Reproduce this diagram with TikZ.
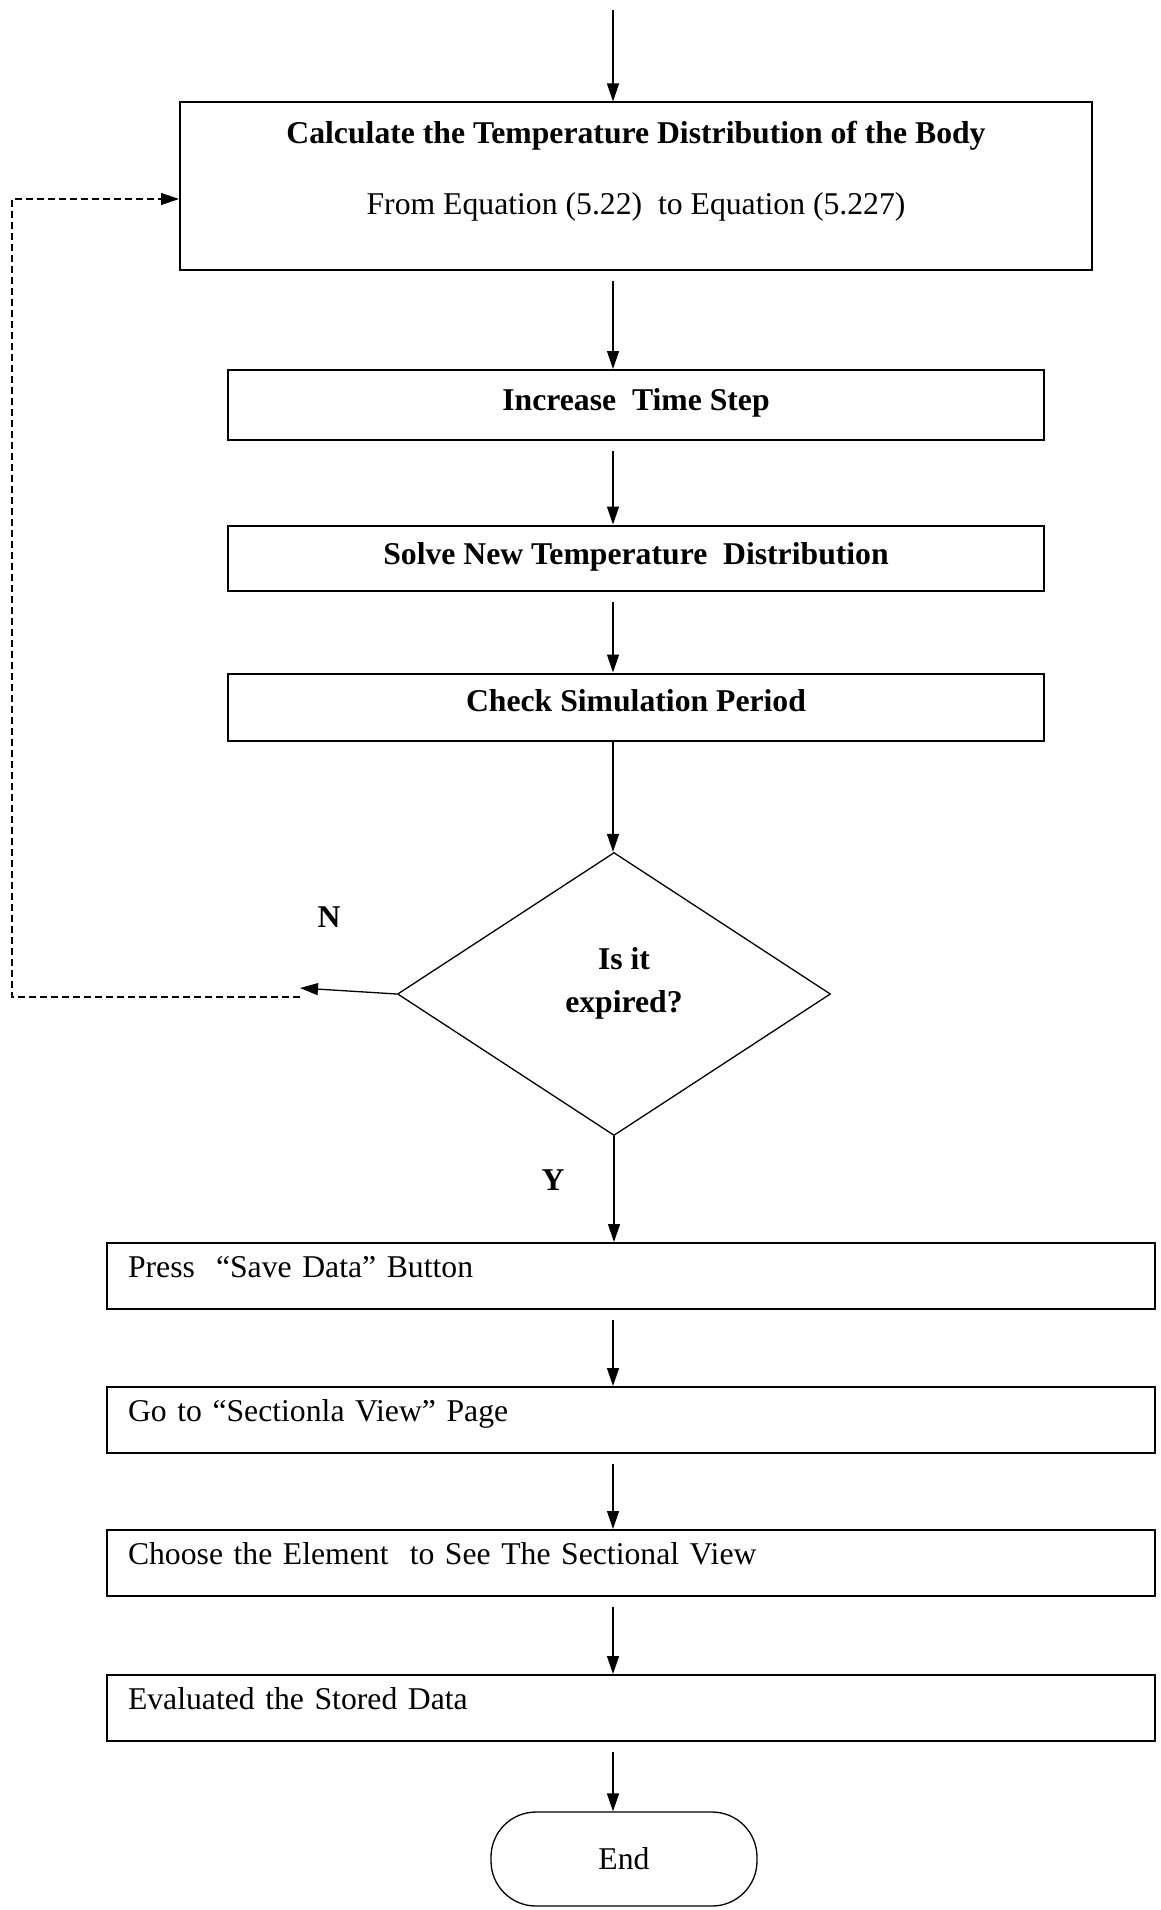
\documentclass[tikz,border=0pt]{standalone}
\usepackage{fontspec}
\setmainfont{Liberation Serif}
\newcommand{\flowsize}{\fontsize{31.7}{38}\selectfont}
\tikzset{flow/.style = {-{Triangle[length=18pt, width=12pt]}, line width = 1.3pt}}
\tikzset{strong/.style = {font = \flowsize\bfseries}}
\tikzset{box/.style = {draw, line width = 2pt, inner sep = 0, strong}}
\tikzset{task/.style = {draw, line width = 2pt, text width = 1006pt, inner xsep = 21pt, inner ysep = 0, minimum height = 66pt, text depth = 19pt, align = left}}
\tikzset{decision/.style = {draw, diamond, line width = 1.3pt, minimum width = 433pt, minimum height = 283pt, inner sep = 0}}
\tikzset{terminal/.style = {draw, rounded corners = 45pt, line width = 1.3pt, minimum width = 266pt, minimum height = 94pt}}
\usetikzlibrary{calc,arrows.meta,
                 shapes.geometric}

\begin{document}
\begin{tikzpicture}[x = 1pt, y = -1pt, font = \flowsize]
    \useasboundingbox (0, 0) rectangle (1160, 1910);
    \coordinate (axis) at (613, 10);
    % upper part
    \node [box, minimum width = 912, minimum height = 167] (calc) at (636, 186) {};
    \node [strong] (calctitle) at (636, 136) {Calculate the Temperature Distribution of the Body};
    \node (calceq) at (636, 207) {From Equation (5.22)\ \ to Equation (5.227)};
    \node [box, minimum width = 816, minimum height = 70, text depth = 11pt] (step) at (636, 405) {Increase\ \ Time Step};
    \node [box, minimum width = 816, minimum height = 65, text depth = 10pt] (solve) at (636, 558) {Solve New Temperature\ \ Distribution};
    \node [box, minimum width = 816, minimum height = 67, text depth = 14pt] (check) at (636, 707) {Check Simulation Period};
    \node [decision] (expired) at (614, 994) {};
    \node [strong, align = center] (ask) at (624, 983) {Is it\\[5pt]expired?};
    \node [strong] (no) at (329, 917) {N};
    \node [strong] (yes) at (553, 1180) {Y};
    % lower part
    \node [task] (save) at (631, 1276) {Press\ \ “Save Data” Button};
    \node [task] (view) at (631, 1420) {Go to “Sectionla View” Page};
    \node [task] (pick) at (631, 1563) {Choose the Element\ \ to See The Sectional View};
    \node [task] (eval) at (631, 1708) {Evaluated the Stored Data};
    \node [terminal] (end) at (624, 1859) {End};
    % connectors
    \draw [flow] (axis) -- (axis |- calc.north);
    \foreach \a/\b in {calc/step, step/solve, solve/check, save/view, view/pick, pick/eval, eval/end}
        \draw [flow, shorten < = 10pt] (axis |- \a.south) -- (axis |- \b.north);
    \draw [flow] (axis |- check.south) -- (axis |- expired.north);
    \draw [flow] (expired.south) -- (expired.south |- save.north);
    \coordinate (back) at (300, 988);
    \coordinate (loop) at (300, 997);
    \coordinate (corner) at (12, 199);
    \draw [flow] (expired.west) -- (back);
    \draw [flow, dash pattern = on 7pt off 4pt] (loop) -| (corner) -- (corner -| calc.west);
\end{tikzpicture}
\end{document}
